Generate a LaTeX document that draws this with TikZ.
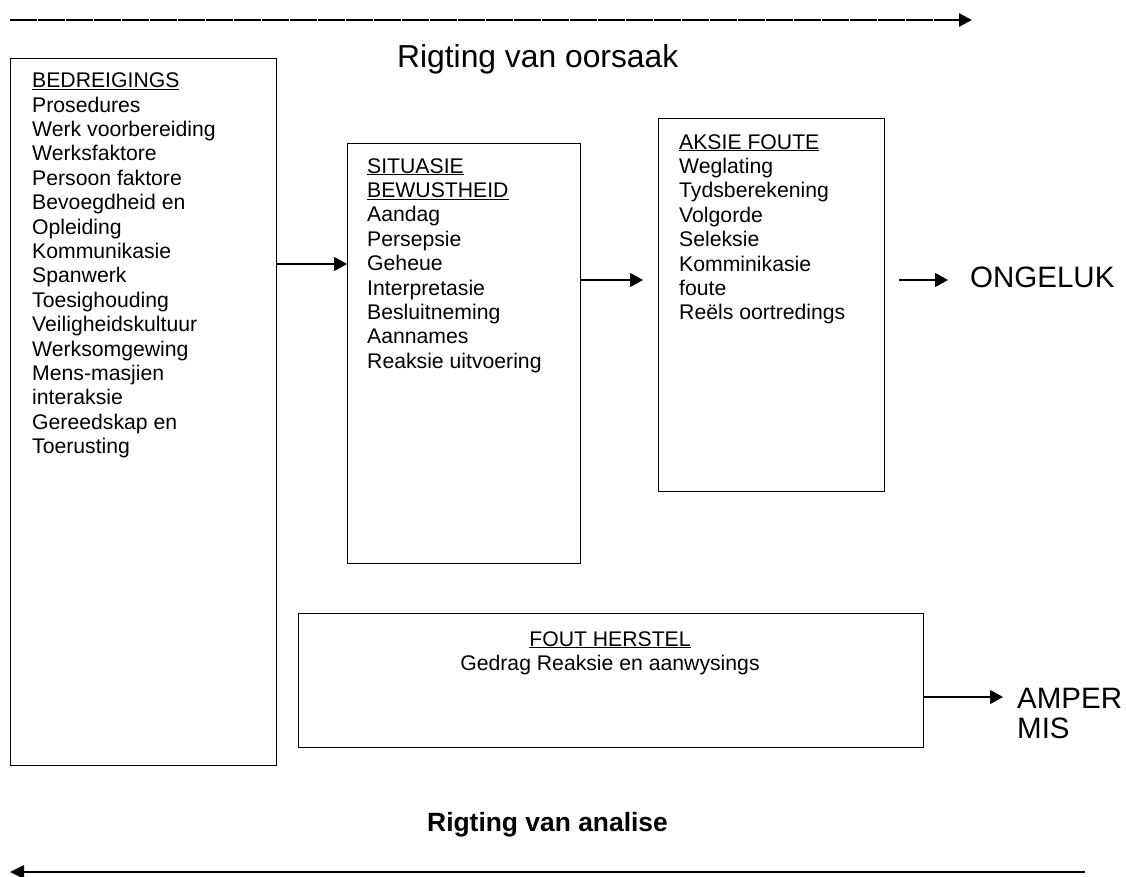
\documentclass[tikz,border=0pt]{standalone}
\usepackage{fontspec}
\setmainfont{Liberation Sans}
\usetikzlibrary{arrows.meta}
\begin{document}
\begin{tikzpicture}[x=1pt,y=-1pt,
  box/.style={draw, line width=1.3pt, inner sep=0pt, anchor=north west},
  list/.style={inner sep=0pt, anchor=north west, align=left,
               font=\fontsize{21.2}{24.4}\selectfont},
  conn/.style={line width=1.2pt, -{Triangle[length=13pt,width=14pt]}},
  big/.style={inner sep=0pt, anchor=base west, font=\fontsize{29.5}{30}\selectfont}
]
\useasboundingbox (0,0) rectangle (1126,877);

% direction of cause (top)
\coordinate (c0) at (10,20);
\coordinate (c1) at (935,20);
\coordinate (c2) at (972,20);
\draw[line width=1.3pt, dash pattern=on 27pt off 1pt] (c0) -- (c1);
\draw[line width=2.2pt, -{Triangle[length=13pt,width=13pt]}] (c1) -- (c2);
\node[inner sep=0pt, anchor=base west, font=\fontsize{31.8}{34}\selectfont]
  (cause) at (397,68) {Rigting van oorsaak};

% boxes
\node[box, minimum width=266pt, minimum height=707pt] (b1) at (10,58) {};
\node[box, minimum width=233pt, minimum height=420pt] (b2) at (347,143) {};
\node[box, minimum width=226pt, minimum height=373pt] (b3) at (658,118) {};
\node[box, minimum width=625pt, minimum height=134pt] (bf) at (298,613) {};

% box contents
\node[list] (t1) at (32,72.6) {\underline{BEDREIGINGS}\\Prosedures\\Werk voorbereiding\\
  Werksfaktore\\Persoon faktore\\Bevoegdheid en\\Opleiding\\Kommunikasie\\Spanwerk\\
  Toesighouding\\Veiligheidskultuur\\Werksomgewing\\Mens-masjien\\interaksie\\
  Gereedskap en\\Toerusting};
\node[list] (t2) at (367,158) {\underline{SITUASIE}\\\underline{BEWUSTHEID}\\Aandag\\
  Persepsie\\Geheue\\Interpretasie\\Besluitneming\\Aannames\\Reaksie uitvoering};
\node[list] (t3) at (679,134) {\underline{AKSIE FOUTE}\\Weglating\\Tydsberekening\\
  Volgorde\\Seleksie\\Komminikasie\\foute\\Reëls oortredings};
\node[list, align=center, anchor=north] (tf) at (610,631)
  {\underline{FOUT HERSTEL}\\Gedrag Reaksie en aanwysings};

% outcomes
\node[big] (ong) at (970,287) {ONGELUK};
\node[big] (amp) at (1017,708) {AMPER};
\node[big] (mis) at (1017,738) {MIS};

% connectors
\draw[conn] (b1.east |- 0,264) -- (b2.west |- 0,264);
\draw[conn, shorten >=15pt] (b2.east |- 0,280) -- (b3.west |- 0,280);
\draw[conn, shorten <=14pt, shorten >=22pt] (b3.east |- 0,280) -- (ong.west |- 0,280);
\draw[conn, shorten >=14pt] (bf.east |- 0,697) -- (amp.west |- 0,697);

% direction of analysis (bottom)
\node[inner sep=0pt, anchor=base west, font=\bfseries\fontsize{26.4}{28}\selectfont]
  (anal) at (427,831) {Rigting van analise};
\coordinate (d0) at (1085,872);
\coordinate (d1) at (10,872);
\draw[line width=2.6pt, -{Triangle[length=14pt,width=13pt]}] (d0) -- (d1);
\end{tikzpicture}
\end{document}
